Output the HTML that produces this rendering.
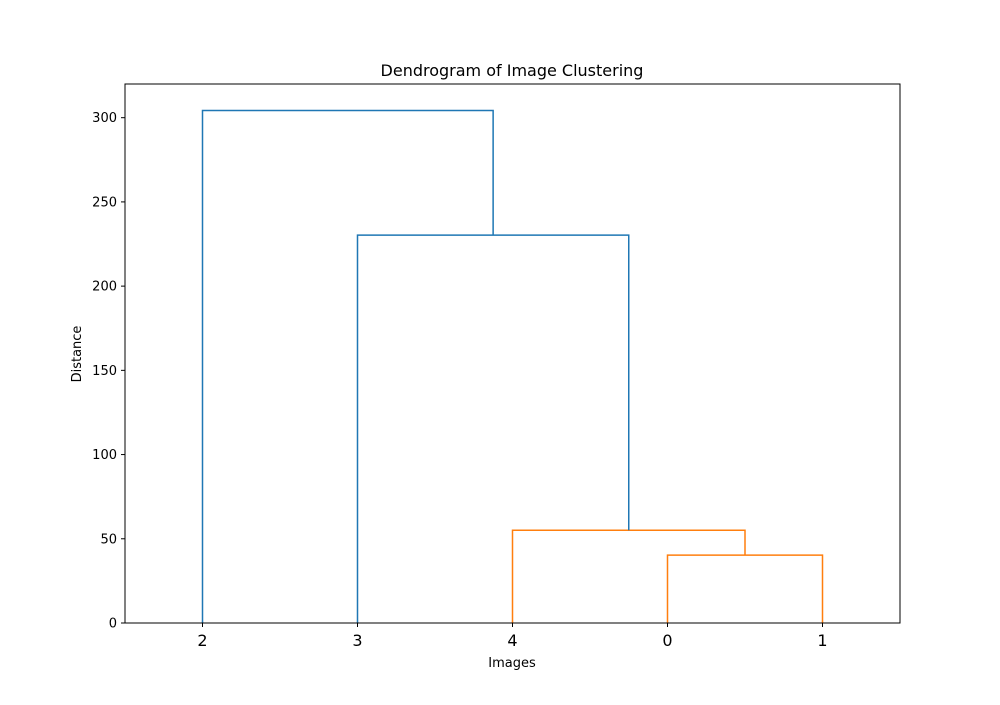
<!DOCTYPE html>
<html><head><meta charset="utf-8"><style>
body{margin:0;background:#fff;}
svg text{font-family:"DejaVu Sans","Liberation Sans",sans-serif;fill:#000;}
</style></head><body>
<svg id="chart" width="1000" height="700" xmlns="http://www.w3.org/2000/svg">
<rect width="1000" height="700" fill="#fff"/>
<text x="512" y="76" font-size="16" text-anchor="middle">Dendrogram of Image Clustering</text>
<g id="links"></g>
<rect x="125" y="84" width="775" height="539" fill="none" stroke="#000" stroke-width="1"/>
<g id="yticks"></g>
<g id="xticks"></g>
<text x="512" y="667" font-size="13" text-anchor="middle">Images</text>
<text transform="translate(81,354) rotate(-90)" font-size="13" text-anchor="middle">Distance</text>
</svg>
<script>
const leafLabels = ["2","3","4","0","1"];
const yTicks = [0,50,100,150,200,250,300];
// each link: [xLeft, xRight, height, leftChildHeight, rightChildHeight, color] in dendrogram units (x: leaf positions 5,15,...)
const linkX = [[35,45],[25,40],[15,32.5],[5,23.75]];
const linkHeights = [40.3, 55.1, 230.3, 304.3];
const childHeights = [[0,0],[0,40.3],[0,55.1],[0,230.3]];
const linkColors = ["#ff7f0e","#ff7f0e","#1f77b4","#1f77b4"];
const NS="http://www.w3.org/2000/svg";
const xs = v => 125 + v*775/50;
const ys = v => 623 - v*539/320;
const lg = document.getElementById('links');
linkX.forEach((lx,i)=>{
  const p=document.createElementNS(NS,'path');
  const x1=xs(lx[0]),x2=xs(lx[1]),yt=ys(linkHeights[i]);
  p.setAttribute('d',`M${x1},${ys(childHeights[i][0])}V${yt}H${x2}V${ys(childHeights[i][1])}`);
  p.setAttribute('fill','none');p.setAttribute('stroke',linkColors[i]);p.setAttribute('stroke-width','1.5');
  
  
  lg.appendChild(p);
});
const yg=document.getElementById('yticks');
yTicks.forEach(v=>{
  const y=ys(v);
  const l=document.createElementNS(NS,'line');
  l.setAttribute('x1',121);l.setAttribute('x2',125);l.setAttribute('y1',y);l.setAttribute('y2',y);l.setAttribute('stroke','#000');
  
  
  yg.appendChild(l);
  const t=document.createElementNS(NS,'text');
  t.setAttribute('x',117);t.setAttribute('y',y+4.5);t.setAttribute('font-size','13');t.setAttribute('text-anchor','end');
  t.textContent=v;
  
  
  yg.appendChild(t);
});
const xg=document.getElementById('xticks');
leafLabels.forEach((lab,i)=>{
  const x=xs(5+10*i);
  const l=document.createElementNS(NS,'line');
  l.setAttribute('x1',x);l.setAttribute('x2',x);l.setAttribute('y1',623);l.setAttribute('y2',627);l.setAttribute('stroke','#000');
  
  
  xg.appendChild(l);
  const t=document.createElementNS(NS,'text');
  t.setAttribute('x',x);t.setAttribute('y',646);t.setAttribute('font-size','16');t.setAttribute('text-anchor','middle');
  t.textContent=lab;
  
  
  xg.appendChild(t);
});
</script>
</body></html>
